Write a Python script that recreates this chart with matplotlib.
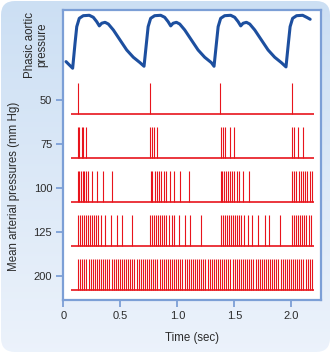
import numpy as np
import matplotlib.pyplot as plt
from matplotlib.patches import FancyBboxPatch

plt.rcParams['font.family'] = ['Liberation Sans', 'DejaVu Sans']

# phasic aortic pressure trace (sec, mm Hg)
pressure_t = [0.024, 0.082, 0.103, 0.118, 0.140, 0.175, 0.228, 0.263, 0.293, 0.316,
              0.337, 0.366, 0.395, 0.439, 0.497, 0.556, 0.614, 0.673, 0.708,
              0.729, 0.744, 0.766, 0.801, 0.854, 0.889, 0.919, 0.942, 0.963, 0.992,
              1.021, 1.065, 1.123, 1.182, 1.240, 1.299, 1.322,
              1.343, 1.358, 1.380, 1.415, 1.468, 1.503, 1.533, 1.556, 1.577, 1.606,
              1.635, 1.679, 1.737, 1.796, 1.854, 1.913, 1.953,
              1.974, 1.989, 2.011, 2.046, 2.099, 2.134, 2.165]
pressure_mmhg = [85.0, 80.0, 99.0, 111.4, 117.7, 119.7, 120.0, 118.5, 115.2, 112.0,
                 114.0, 114.7, 113.4, 108.9, 101.4, 93.8, 88.3, 84.2, 81.5,
                 99.0, 111.4, 117.7, 119.7, 120.0, 118.5, 115.2, 112.0, 114.0, 114.7,
                 113.4, 108.9, 101.4, 93.8, 88.3, 84.2, 81.5,
                 99.0, 111.4, 117.7, 119.7, 120.0, 118.5, 115.2, 112.0, 114.0, 114.7,
                 113.4, 108.9, 101.4, 93.8, 88.3, 84.2, 81.0,
                 99.0, 111.4, 117.7, 119.7, 120.0, 118.5, 117.0]

# carotid sinus nerve impulses (sec) at each mean arterial pressure
pressure_levels = ['50', '75', '100', '125', '200']

spikes_50 = [0.132, 0.758, 1.377, 2.009]

spikes_75 = [0.126, 0.140, 0.161, 0.175, 0.196,
             0.758, 0.775, 0.796, 0.825,
             1.381, 1.398, 1.421, 1.462, 1.497,
             2.006, 2.026, 2.054, 2.105]

spikes_100 = [0.126, 0.140, 0.155, 0.170, 0.184, 0.199, 0.214, 0.254, 0.298, 0.346, 0.425,
              0.765, 0.782, 0.800, 0.818, 0.835, 0.857, 0.879, 0.905, 0.936, 0.975, 1.024, 1.103,
              1.381, 1.396, 1.412, 1.429, 1.445, 1.462, 1.480, 1.497, 1.519, 1.541, 1.574, 1.626,
              2.006, 2.025, 2.045, 2.064, 2.083, 2.103, 2.122, 2.141, 2.161, 2.180]

spikes_125 = [0.126, 0.144, 0.161, 0.179, 0.196, 0.214, 0.232, 0.249, 0.267, 0.284, 0.302,
              0.331, 0.366, 0.418, 0.471, 0.518, 0.605,
              0.763, 0.781, 0.798, 0.816, 0.833, 0.851, 0.868, 0.886, 0.904, 0.927, 0.951,
              0.974, 1.015, 1.068, 1.114, 1.206,
              1.381, 1.398, 1.416, 1.433, 1.451, 1.468, 1.486, 1.504, 1.521, 1.539, 1.556,
              1.585, 1.623, 1.658, 1.711, 1.767, 1.807, 1.901,
              2.004, 2.024, 2.041, 2.059, 2.076, 2.094, 2.111, 2.129, 2.153, 2.175]

spikes_200 = [0.130, 0.148, 0.167, 0.185, 0.203, 0.222, 0.240, 0.258, 0.276, 0.295,
              0.313, 0.331, 0.350, 0.368, 0.386, 0.405, 0.423, 0.441, 0.459, 0.478,
              0.496, 0.514, 0.533, 0.551, 0.569, 0.588, 0.606, 0.624, 0.642, 0.661,
              0.679, 0.697, 0.716, 0.734, 0.752, 0.771, 0.789, 0.807, 0.825, 0.844,
              0.862, 0.880, 0.899, 0.917, 0.935, 0.954, 0.972, 0.990, 1.008, 1.027,
              1.045, 1.063, 1.082, 1.100, 1.118, 1.137, 1.155, 1.173, 1.191, 1.210,
              1.228, 1.246, 1.265, 1.283, 1.301, 1.320, 1.338, 1.356, 1.374, 1.393,
              1.411, 1.429, 1.448, 1.466, 1.484, 1.503, 1.521, 1.539, 1.557, 1.576,
              1.594, 1.612, 1.631, 1.649, 1.667, 1.686, 1.704, 1.722, 1.740, 1.759,
              1.777, 1.795, 1.814, 1.832, 1.850, 1.869, 1.887, 1.905, 1.923, 1.942,
              1.960, 1.978, 1.997, 2.015, 2.033, 2.052, 2.070, 2.088, 2.106, 2.125,
              2.143, 2.161, 2.180]

spike_trains = [spikes_50, spikes_75, spikes_100, spikes_125, spikes_200]

time_ticks = [0, 0.5, 1.0, 1.5, 2.0]
time_labels = ['0', '0.5', '1.0', '1.5', '2.0']

W, H = 331, 353
frame_blue = '#7c9fd6'
spike_red = '#e8141c'
text_col = '#2b2b2b'

fig = plt.figure(figsize=(W / 100, H / 100), dpi=100)

# rounded light-blue panel with a soft vertical gradient
bg = fig.add_axes([0, 0, 1, 1], zorder=-2)
bg.set_xlim(0, W)
bg.set_ylim(0, H)
bg.axis('off')
grad = np.linspace(0, 1, 256).reshape(-1, 1)
top_c = np.array([0.80, 0.875, 0.955])
bot_c = np.array([0.925, 0.95, 0.985])
img = top_c * (1 - grad[..., None]) + bot_c * grad[..., None]
im = bg.imshow(img, extent=[0, W, 0, H], origin='upper', aspect='auto')
panel = FancyBboxPatch((1, 1), W - 2, H - 2, boxstyle='round,pad=0,rounding_size=14',
                       facecolor='none', edgecolor='none', transform=bg.transData)
bg.add_patch(panel)
im.set_clip_path(panel)

# main box with the spike trains
left, right = 63.3 / W, 321 / W
ax = fig.add_axes([left, 1 - 300 / H, right - left, 290 / H])
ax.set_facecolor('white')
ax.set_xlim(0, 2.26)
ax.set_ylim(-0.227, 6.364)

n = len(spike_trains)
for i, times in enumerate(spike_trains):
    base = n - 1 - i
    ax.vlines(times, base, base + 0.7, color=spike_red, lw=0.8)
    ax.hlines(base, 0.07, 2.2, color=spike_red, lw=1.2)

ax.set_yticks([n - 1 - i + 0.32 for i in range(n)])
ax.set_yticklabels(pressure_levels)
ax.set_xticks(time_ticks)
ax.set_xticklabels(time_labels)
ax.tick_params(direction='out', length=5, width=1.3, color=frame_blue,
               labelsize=8, labelcolor=text_col, pad=3)
for s in ax.spines.values():
    s.set_color(frame_blue)
    s.set_linewidth(1.6)

# aortic pressure trace in the upper strip
axp = fig.add_axes([left, 1 - 75 / H, right - left, 65 / H])
axp.set_xlim(0, 2.26)
axp.set_ylim(74.9, 124.0)
axp.axis('off')
axp.plot(pressure_t, pressure_mmhg, color='#1d4f9f', lw=2.2,
         solid_joinstyle='round', solid_capstyle='round')

fig.text(14 / W, 1 - 186 / H, 'Mean arterial pressures (mm Hg)', rotation=90,
         ha='center', va='center', fontsize=8.3, color=text_col)
fig.text(36 / W, 1 - 45 / H, 'Phasic aortic\npressure', rotation=90,
         ha='center', va='center', fontsize=8.3, color=text_col, linespacing=1.05)
fig.text(192 / W, 1 - 338 / H, 'Time (sec)', ha='center', va='center',
         fontsize=8.3, color=text_col)

fig.savefig('out.png', dpi=100)
